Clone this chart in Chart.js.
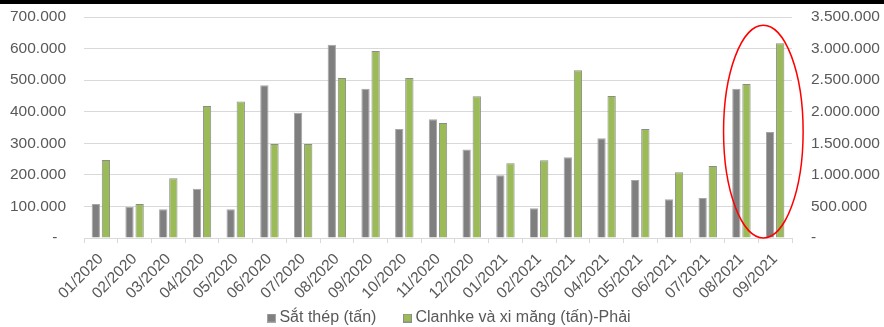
<!DOCTYPE html>
<html>
<head>
<meta charset="utf-8">
<script src="https://cdn.jsdelivr.net/npm/chart.js@4/dist/chart.umd.min.js"></script>
<style>
  html, body { margin: 0; padding: 0; background: #fff; }
  #wrap { width: 884px; height: 323px; border-top: 4px solid #000; position: relative; }
  #chart { display: block; }
</style>
</head>
<body>
<div id="wrap"><canvas id="chart" width="884" height="323"></canvas></div>
<script>
// Monthly categories
const months = ['01/2020', '02/2020', '03/2020', '04/2020', '05/2020', '06/2020', '07/2020',
  '08/2020', '09/2020', '10/2020', '11/2020', '12/2020', '01/2021', '02/2021', '03/2021',
  '04/2021', '05/2021', '06/2021', '07/2021', '08/2021', '09/2021'];

// Steel, tonnes (left axis)
const steelTonnes = [108000, 99000, 91000, 156000, 91000, 484000, 397000, 612000, 473000, 345000,
  376000, 280000, 199000, 94000, 256000, 316000, 184000, 123000, 127000, 473000, 336000];

// Clinker and cement, tonnes (right axis)
const clinkerTonnes = [1235000, 540000, 945000, 2090000, 2160000, 1490000, 1490000, 2535000, 2960000,
  2535000, 1820000, 2245000, 1185000, 1230000, 2655000, 2250000, 1725000, 1040000, 1140000, 2440000, 3085000];

const seriesNames = ['Sắt thép (tấn)', 'Clanhke và xi măng (tấn)-Phải'];

// Axis limits and steps
const leftMax = 700000, leftStep = 100000;
const rightMax = 3500000, rightStep = 500000;

const FAMILY = '"Liberation Sans", Arial, sans-serif';
const TICK_FONT = { family: FAMILY, size: 15.5 };
const LEGEND_FONT = { family: FAMILY, size: 16 };
const TEXT = '#595959';
const GRID = '#d9d9d9';

const STEEL_FILL = '#7f7f7f', STEEL_EDGE = '#a6a6a6';
const CLINKER_FILL = '#9bbb59', CLINKER_EDGE = '#8c8c8c';

function fmt(v) {
  return String(Math.round(v)).replace(/\B(?=(\d{3})+(?!\d))/g, '.');
}

// Small square swatches for the legend
function swatch(fill, edge) {
  const c = document.createElement('canvas');
  c.width = 9; c.height = 9;
  const g = c.getContext('2d');
  g.fillStyle = edge; g.fillRect(0, 0, 9, 9);
  g.fillStyle = fill; g.fillRect(1, 1, 7, 7);
  return c;
}
const swatches = [swatch(STEEL_FILL, STEEL_EDGE), swatch(CLINKER_FILL, CLINKER_EDGE)];

// Red ring around the last two months
const highlightRing = {
  id: 'highlightRing',
  afterDatasetsDraw(chart) {
    const x = chart.scales.x, yR = chart.scales.yR;
    const a = x.getPixelForValue(19), b = x.getPixelForValue(20);
    const cw = b - a;
    const cx = a + cw * 0.65;
    const top = yR.getPixelForValue(3370000), bottom = yR.getPixelForValue(0);
    const ctx = chart.ctx;
    ctx.save();
    ctx.beginPath();
    ctx.ellipse(cx, (top + bottom) / 2, cw * 1.18, (bottom - top) / 2, 0, 0, Math.PI * 2);
    ctx.strokeStyle = '#ff0000';
    ctx.lineWidth = 1.5;
    ctx.stroke();
    ctx.restore();
  }
};

// Place the legend row under the rotated month labels
const legendPlacement = {
  id: 'legendPlacement',
  afterLayout(chart) {
    const lg = chart.legend;
    if (!lg) return;
    const pad = lg.options.labels.padding;
    lg.top = 314 - pad - LEGEND_FONT.size / 2;
    lg.left += 9;
    lg.right += 9;
  }
};

new Chart(document.getElementById('chart'), {
  type: 'bar',
  data: {
    labels: months,
    datasets: [
      {
        label: seriesNames[0],
        data: steelTonnes,
        yAxisID: 'y',
        backgroundColor: STEEL_FILL,
        borderColor: STEEL_EDGE,
        borderWidth: 1,
        categoryPercentage: 0.6,
        barPercentage: 0.82
      },
      {
        label: seriesNames[1],
        data: clinkerTonnes,
        yAxisID: 'yR',
        backgroundColor: CLINKER_FILL,
        borderColor: CLINKER_EDGE,
        borderWidth: 1,
        categoryPercentage: 0.6,
        barPercentage: 0.82
      }
    ]
  },
  options: {
    responsive: false,
    animation: false,
    devicePixelRatio: 1,
    layout: { padding: { left: 0, right: 0, top: 13, bottom: 0 } },
    plugins: {
      tooltip: { enabled: false },
      legend: {
        position: 'bottom',
        maxHeight: 27,
        labels: {
          font: LEGEND_FONT,
          color: TEXT,
          usePointStyle: true,
          pointStyleWidth: 0.01,
          padding: 31,
          generateLabels(chart) {
            const items = Chart.defaults.plugins.legend.labels.generateLabels(chart);
            items.forEach((it, i) => { it.pointStyle = swatches[i]; });
            return items;
          }
        }
      }
    },
    scales: {
      x: {
        grid: { display: true, drawOnChartArea: false, drawTicks: true, tickLength: 5, color: GRID, offset: true },
        border: { display: true, color: GRID },
        ticks: { font: TICK_FONT, color: TEXT, maxRotation: 45, minRotation: 45, autoSkip: false, padding: 7 },
        afterFit(scale) { scale.height = 62; }
      },
      y: {
        position: 'left',
        min: 0, max: leftMax,
        grid: { color: GRID, drawTicks: true, tickLength: 18, tickColor: 'rgba(0,0,0,0)' },
        border: { display: false },
        ticks: {
          stepSize: leftStep, font: TICK_FONT, color: TEXT, padding: 0,
          callback: v => v === 0 ? '-  ' : fmt(v)
        },
        afterFit(scale) { scale.width = 84; }
      },
      yR: {
        position: 'right',
        min: 0, max: rightMax,
        grid: { display: true, drawOnChartArea: false, drawTicks: true, tickLength: 19, tickColor: 'rgba(0,0,0,0)' },
        border: { display: false },
        ticks: {
          stepSize: rightStep, font: TICK_FONT, color: TEXT, padding: 0,
          callback: v => v === 0 ? '-' : fmt(v)
        },
        afterFit(scale) { scale.width = 92; }
      }
    }
  },
  plugins: [highlightRing, legendPlacement]
});
</script>
</body>
</html>
